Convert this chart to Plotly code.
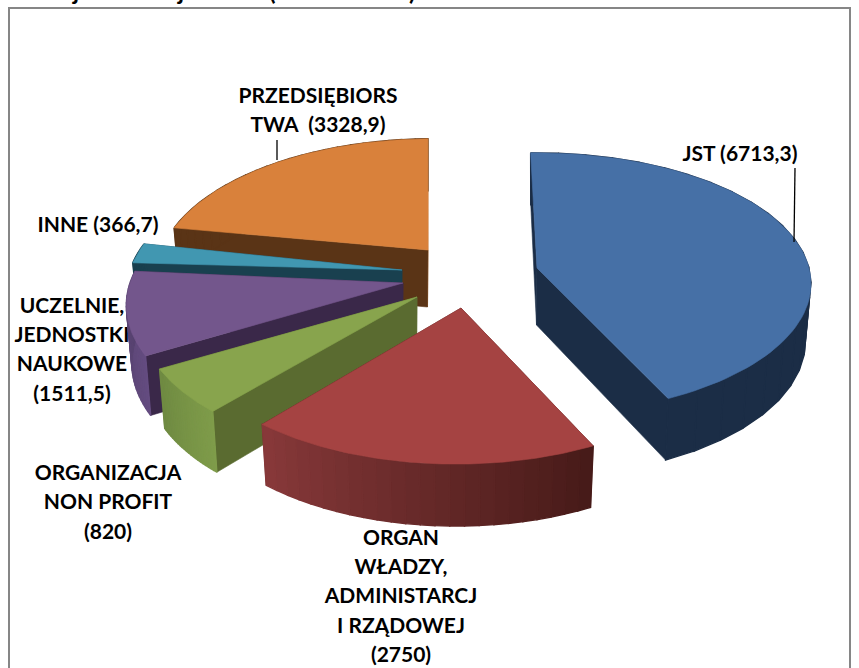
import math
import plotly.graph_objects as go

# ---- data ----
categories = ["JST", "ORGAN WŁADZY, ADMINISTARCJI RZĄDOWEJ", "ORGANIZACJA NON PROFIT",
              "UCZELNIE, JEDNOSTKI NAUKOWE", "INNE", "PRZEDSIĘBIORSTWA"]
values = [6713.3, 2750, 820, 1511.5, 366.7, 3328.9]

# ---- 3D look (styles) ----
top_colors = ["#4670A6", "#A54342", "#88A44D", "#73568C", "#4197B1", "#D9813B"]
wall_colors = ["#1B2D46", "#4A1B19", "#5A6B30", "#3A2849", "#19404F", "#5A3416"]
far_wall_colors = ["#1B2D46", "#4A1B19", "#5A6B30", "#3A2849", "#19404F", "#BF7433"]
rim_left = ["#1B2D46", "#88393A", "#6F8A42", "#54406C", "#19404F", "#5A3416"]
rim_right = ["#1B2D46", "#461A18", "#7F9C4A", "#644C80", "#19404F", "#5A3416"]
apex_x = [537, 461, 417, 403, 402, 428]
apex_y = [268, 308, 297, 283, 270, 250]
rim_dx = [0, -5, -1, -1, 0, 4]
rim_dy = [0, -4, -1, 0, 0, 4]
angle_tweak = [0, 0, 2.5, 2.5, 0.5, 0.5]
radius_y = [129, 134, 134, 134, 134, 134]
persp = [0.12, 0.163, 0.163, 0.163, 0.163, 0.163]
draw_order = [5, 4, 3, 2, 1, 0]

START = -1.5
RX = 272
DEPTH, DEPTH_NEAR, LOWER_SCALE = 57, 5, 0.98
BANDS = 24


def rim(theta, i):
    t = math.radians(theta)
    s = 1 / (1 + persp[i] * math.cos(t))
    return RX * math.sin(t) * s + rim_dx[i], -radius_y[i] * math.cos(t) * s + rim_dy[i]


def depth(theta):
    return DEPTH + DEPTH_NEAR * -math.cos(math.radians(theta))


def hex_mix(a, b, f):
    ca = [int(a[i:i + 2], 16) for i in (1, 3, 5)]
    cb = [int(b[i:i + 2], 16) for i in (1, 3, 5)]
    return "rgb(%d,%d,%d)" % tuple(round(x + (y - x) * f) for x, y in zip(ca, cb))


def poly(xs, ys, color, width=0.6):
    return go.Scatter(x=xs, y=ys, mode="lines", fill="toself", fillcolor=color,
                      line=dict(color=color, width=width), hoverinfo="skip", showlegend=False)


total = sum(values)
spans = []
acc = START
for v in values:
    spans.append((acc, acc + v / total * 360))
    acc += v / total * 360

# ---- labels: one entry per line ----
label_lines = ["PRZEDSIĘBIORS", "TWA  (3328,9)", "JST (6713,3)", "INNE (366,7)",
               "UCZELNIE,", "JEDNOSTKI", "NAUKOWE", "(1511,5)",
               "ORGANIZACJA", "NON PROFIT", "(820)",
               "ORGAN", "WŁADZY,", "ADMINISTARCJ", "I RZĄDOWEJ", "(2750)"]
label_x = [318, 318, 740, 98, 72, 72, 72, 72, 108, 108, 108, 401, 401, 401, 401, 401]
label_y = [98, 127, 156, 227, 308, 337, 366, 396, 475, 504, 534, 540, 569, 598, 628, 657]

fig = go.Figure()
fig.add_trace(go.Scatter(x=label_x, y=label_y, text=label_lines, mode="text",
                         textposition="middle center",
                         textfont=dict(family="Lato", size=21, color="#000000", weight="bold"),
                         hoverinfo="skip", showlegend=False))

for i in draw_order:
    a0, a1 = spans[i]
    a0 += angle_tweak[i]
    a1 += angle_tweak[i]
    ax, ay = apex_x[i], apex_y[i]

    def low(theta):
        x, y = rim(theta, i)
        return ax + x * LOWER_SCALE, ay + y + depth(theta)

    # radial walls
    for th, col in ((a1, far_wall_colors[i]), (a0, wall_colors[i])):
        x, y = rim(th, i)
        lx, ly = low(th)
        fig.add_trace(poly([ax, ax + x, lx, ax - 0.5, ax],
                           [ay, ay + y, ly, ay + DEPTH, ay], col))
    # outer wall, shaded band by band
    for b in range(BANDS):
        t0 = a0 + (a1 - a0) * b / BANDS
        t1 = a0 + (a1 - a0) * (b + 1) / BANDS
        x0, y0 = rim(t0, i)
        x1, y1 = rim(t1, i)
        lx0, ly0 = low(t0)
        lx1, ly1 = low(t1)
        # clockwise angle runs from right to left along the near rim
        col = hex_mix(rim_right[i], rim_left[i], (b + 0.5) / BANDS)
        fig.add_trace(poly([ax + x0, ax + x1, lx1, lx0, ax + x0],
                           [ay + y0, ay + y1, ly1, ly0, ay + y0], col, width=1.4))
    # top face
    n = 80
    pts = [rim(a0 + (a1 - a0) * k / n, i) for k in range(n + 1)]
    fig.add_trace(poly([ax] + [ax + p[0] for p in pts] + [ax],
                       [ay] + [ay + p[1] for p in pts] + [ay], top_colors[i]))

# leader lines
leader_x = [[795, 794], [277, 277]]
leader_y = [[168, 242], [140, 160]]
for lx, ly in zip(leader_x, leader_y):
    fig.add_trace(go.Scatter(x=lx, y=ly, mode="lines", line=dict(color="#000000", width=1.3),
                             hoverinfo="skip", showlegend=False))

# chopped title above the frame: only the descenders reach the page
for ch, cx in zip(["j", "j", "(", ")"], [75, 180, 272, 412]):
    fig.add_annotation(x=cx / 859, y=1 + 9 / 668, text=ch, showarrow=False,
                       xref="paper", yref="paper", xanchor="center", yanchor="middle",
                       font=dict(family="Lato", size=24, color="#000000", weight="bold"))

fig.update_layout(
    width=859, height=668, margin=dict(l=0, r=0, t=0, b=0),
    paper_bgcolor="#FFFFFF", plot_bgcolor="#FFFFFF", showlegend=False,
    xaxis=dict(range=[0, 859], visible=False, fixedrange=True),
    yaxis=dict(range=[668, 0], visible=False, fixedrange=True),
    shapes=[dict(type="rect", x0=9, y0=8, x1=850, y1=690, xref="x", yref="y",
                 line=dict(color="#868686", width=2), layer="below")],
)
fig.write_html("out.html", config={"displayModeBar": False},
               post_script="document.body.style.margin='0';document.documentElement.style.overflow='hidden';")
